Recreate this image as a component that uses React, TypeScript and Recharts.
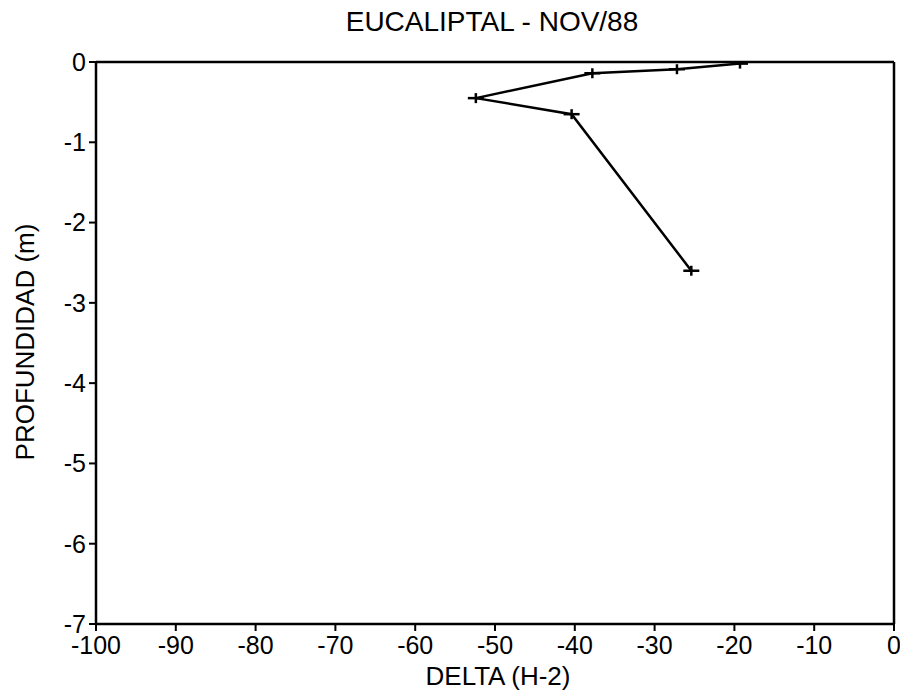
import React from "react";
import { LineChart, Line, XAxis, YAxis, ReferenceLine } from "recharts";

const deltaValues = [-19.3, -27.2, -37.8, -52.4, -40.4, -25.4];
const depthValues = [-0.02, -0.09, -0.14, -0.45, -0.65, -2.6];
const xTicks = [-100, -90, -80, -70, -60, -50, -40, -30, -20, -10, 0];
const yTicks = [-7, -6, -5, -4, -3, -2, -1, 0];

const data = deltaValues.map((d, i) => ({ delta: d, depth: depthValues[i] }));

const FONT = "'Liberation Sans', Arial, Helvetica, sans-serif";

const PlusDot = (props: any) => {
  const { cx, cy } = props;
  if (cx == null || cy == null) return null;
  return (
    <g>
      <line x1={cx - 8} y1={cy} x2={cx + 8} y2={cy} stroke="#000" strokeWidth={2.5} />
      <line x1={cx} y1={cy - 5} x2={cx} y2={cy + 5} stroke="#000" strokeWidth={2.5} />
    </g>
  );
};

export default function App() {
  return (
    <div style={{ position: "relative", width: 900, height: 687, fontFamily: FONT, color: "#000" }}>
      <div
        style={{
          position: "absolute",
          left: 284,
          top: 0,
          width: 400,
          textAlign: "center",
          fontSize: 28,
          lineHeight: "28px",
          whiteSpace: "nowrap",
        }}
      >
        EUCALIPTAL - NOV/88
      </div>
      <LineChart
        width={900}
        height={687}
        data={data}
        margin={{ top: 54, right: 14, left: 28, bottom: 0 }}
      >
        <XAxis
          type="number"
          dataKey="delta"
          domain={[-100, 0]}
          ticks={xTicks}
          interval={0}
          allowDataOverflow
          height={71}
          tickSize={7}
          tickMargin={5}
          axisLine={{ stroke: "#000", strokeWidth: 2.5 }}
          tickLine={{ stroke: "#000", strokeWidth: 2 }}
          tick={{ fill: "#000", fontSize: 25, fontFamily: FONT }}
        />
        <YAxis
          type="number"
          dataKey="depth"
          domain={[-7, 0]}
          ticks={yTicks}
          interval={0}
          allowDataOverflow
          width={60}
          tickSize={7}
          tickMargin={3}
          axisLine={{ stroke: "#000", strokeWidth: 2.5 }}
          tickLine={{ stroke: "#000", strokeWidth: 2 }}
          tick={{ fill: "#000", fontSize: 25, fontFamily: FONT }}
        />
        <ReferenceLine y={0} stroke="#000" strokeWidth={2.5} ifOverflow="extendDomain" />
        <ReferenceLine x={0} stroke="#000" strokeWidth={2.5} ifOverflow="extendDomain" />
        <Line
          type="linear"
          dataKey="depth"
          stroke="#000"
          strokeWidth={2.5}
          dot={<PlusDot />}
          activeDot={false}
          isAnimationActive={false}
        />
      </LineChart>
      <div
        style={{
          position: "absolute",
          left: 17,
          top: 334,
          transform: "translate(-50%, -50%) rotate(-90deg)",
          fontSize: 26,
          lineHeight: "26px",
          whiteSpace: "nowrap",
        }}
      >
        PROFUNDIDAD (m)
      </div>
      <div
        style={{
          position: "absolute",
          left: 490,
          top: 668,
          transform: "translate(-50%, -50%)",
          fontSize: 26,
          lineHeight: "26px",
          whiteSpace: "nowrap",
        }}
      >
        DELTA (H-2)
      </div>
    </div>
  );
}
